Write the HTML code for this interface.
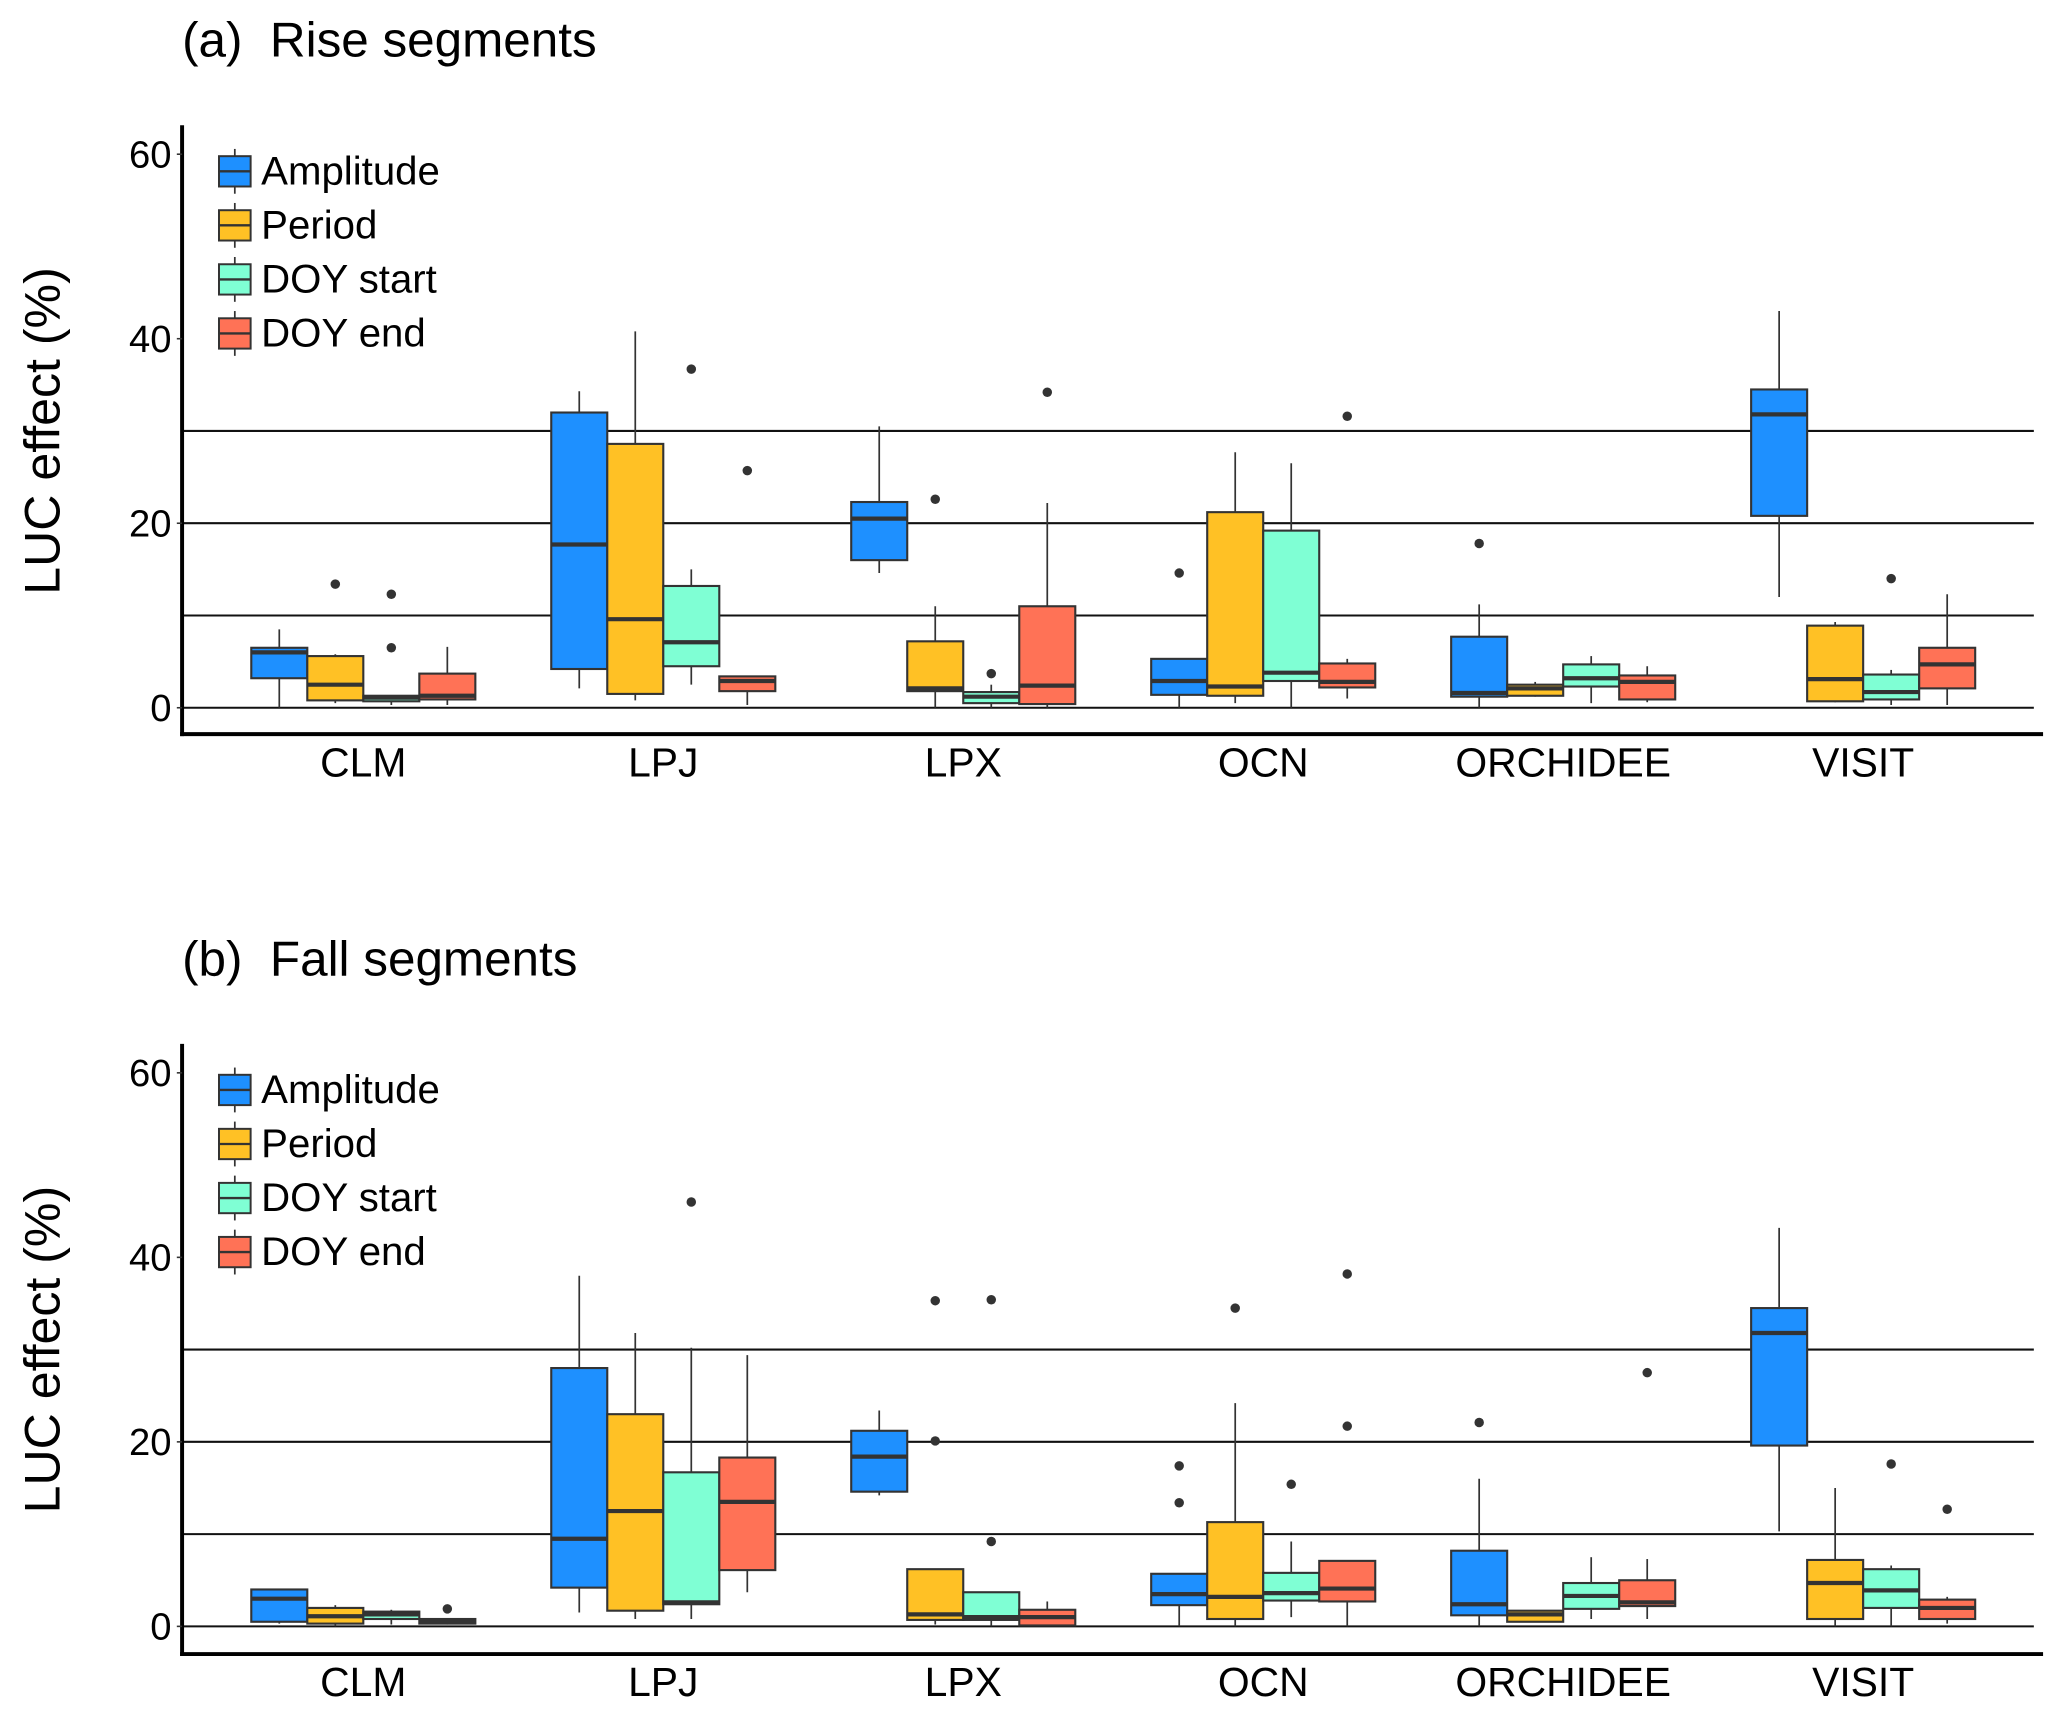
<!DOCTYPE html>
<html><head><meta charset="utf-8">
<style>
html,body{margin:0;padding:0;background:#fff;}
svg{display:block;font-family:"Liberation Sans",Arial,sans-serif;}
</style></head>
<body>
<svg id="chart" width="2067" height="1716" viewBox="0 0 1568 1302" xmlns="http://www.w3.org/2000/svg">
</svg>
<script>
const models = ["CLM","LPJ","LPX","OCN","ORCHIDEE","VISIT"];
const metrics = ["Amplitude","Period","DOY start","DOY end"];
const colors = ["#1E90FF","#FFC125","#7FFFD4","#FF7256"];
const yTicks = [0,20,40,60];
const gridVals = [0,10,20,30];
// each entry: [lowWhisker, q1, median, q3, highWhisker]
const riseStats = [
  [[0,3.2,6,6.5,8.5],[0.5,0.8,2.5,5.6,5.8],[0.3,0.7,1.1,1.3,1.3],[0.3,0.9,1.3,3.7,6.6]],
  [[2.1,4.2,17.7,32,34.3],[0.8,1.5,9.6,28.6,40.8],[2.5,4.5,7.1,13.2,15],[0.3,1.8,2.9,3.4,3.4]],
  [[14.6,16,20.5,22.3,30.5],[0,1.8,2.1,7.2,11],[0,0.5,1.2,1.7,2.5],[0,0.4,2.4,11,22.2]],
  [[0,1.4,2.9,5.3,5.3],[0.5,1.3,2.3,21.2,27.7],[0,2.9,3.8,19.2,26.5],[1,2.2,2.8,4.8,5.3]],
  [[0,1.2,1.6,7.7,11.2],[1.2,1.3,2.1,2.5,2.8],[0.5,2.3,3.2,4.7,5.6],[0.6,0.9,2.8,3.5,4.5]],
  [[12,20.8,31.8,34.5,43],[0.6,0.7,3.1,8.9,9.3],[0.3,0.9,1.7,3.6,4.1],[0.3,2.1,4.7,6.5,12.3]]
];
const riseOutliers = [
  [[],[13.4],[12.3,6.5],[]],
  [[],[],[36.7],[25.7]],
  [[],[22.6],[3.7],[34.2]],
  [[14.6],[],[],[31.6]],
  [[17.8],[],[],[]],
  [[],[],[14],[]]
];
const fallStats = [
  [[0.3,0.5,3,4,4],[0,0.3,1.1,2,2.3],[0.2,0.8,1.3,1.6,1.8],[0.2,0.3,0.6,0.8,0.8]],
  [[1.5,4.2,9.5,28,38],[0.8,1.7,12.5,23,31.8],[0.8,2.4,2.6,16.7,30.2],[3.7,6.1,13.5,18.3,29.4]],
  [[14.2,14.6,18.4,21.2,23.4],[0.2,0.7,1.3,6.2,6.2],[0,0.7,1,3.7,3.7],[0,0.1,1,1.8,2.7]],
  [[0,2.3,3.5,5.7,5.7],[0,0.8,3.2,11.3,24.2],[1,2.8,3.6,5.8,9.2],[0,2.7,4.1,7.1,7.1]],
  [[0,1.2,2.4,8.2,16],[0.5,0.5,1.3,1.7,1.7],[0.8,1.9,3.3,4.7,7.5],[0.8,2.2,2.6,5,7.3]],
  [[10.3,19.6,31.8,34.5,43.2],[0,0.8,4.7,7.2,15],[0,2,3.9,6.2,6.6],[0.3,0.8,2,2.9,3.2]]
];
const fallOutliers = [
  [[],[],[],[1.9]],
  [[],[],[46],[]],
  [[],[35.3,20.1],[35.4,9.2],[]],
  [[17.4,13.4],[34.5],[15.4],[38.2,21.7]],
  [[22.1],[],[],[27.5]],
  [[],[],[17.6],[12.7]]
];

const svg = document.getElementById('chart');
const NS = "http://www.w3.org/2000/svg";
function mk(tag, attrs, parent){
  const e = document.createElementNS(NS, tag);
  for (const k in attrs) e.setAttribute(k, attrs[k]);
  (parent||svg).appendChild(e);
  return e;
}
const X0 = 138, XEND = 1550, CAT0 = 275.5, CATSTEP = 227.6, BW = 42.5;
const offs = [-1.5,-0.5,0.5,1.5];
function xCat(i){ return CAT0 + i*CATSTEP; }

function panel(id, title, titleY, zeroY, axisY, stats, outl){
  const g = mk('g', {});
  
  
  const y = v => zeroY - v*7;
  const t = mk('text', {x:138, y:titleY, 'font-size':37.5, fill:'#000', 'xml:space':'preserve', style:'white-space:pre'}, g);
  t.textContent = title;
  
  
  gridVals.forEach(v=>{
    const l = mk('line', {x1:X0, x2:1543, y1:y(v), y2:y(v), stroke:'#111', 'stroke-width':1.6}, g);
    
    
  });
  const ya = mk('line', {x1:X0, x2:X0, y1:y(60)-22, y2:axisY+1.5, stroke:'#000', 'stroke-width':3}, g);
  
  
  const xa = mk('line', {x1:X0-1.5, x2:XEND, y1:axisY, y2:axisY, stroke:'#000', 'stroke-width':3}, g);
  
  
  yTicks.forEach(v=>{
    mk('line', {x1:X0-4, x2:X0, y1:y(v), y2:y(v), stroke:'#333', 'stroke-width':1.2}, g);
    const tl = mk('text', {x:X0-8, y:y(v)+10, 'font-size':29, 'text-anchor':'end', fill:'#000'}, g);
    tl.textContent = v;
    
    
  });
  const yl = mk('text', {x:0, y:0, 'font-size':38, 'text-anchor':'middle', fill:'#000', transform:`translate(45,${y(30)}) rotate(-90)`}, g);
  yl.textContent = 'LUC effect (%)';
  
  
  models.forEach((m,i)=>{
    const cl = mk('text', {x:xCat(i), y:axisY+32, 'font-size':31, 'text-anchor':'middle', fill:'#000'}, g);
    cl.textContent = m;
    
    
    stats[i].forEach((s,j)=>{
      const cx = xCat(i) + offs[j]*BW;
      const bg = mk('g', {}, g);
      
      
      mk('line', {x1:cx, x2:cx, y1:y(s[0]), y2:y(s[4]), stroke:'#333', 'stroke-width':1.3}, bg);
      mk('rect', {x:cx-BW/2, y:y(s[3]), width:BW, height:Math.max(y(s[1])-y(s[3]),0.5), fill:colors[j], stroke:'#333', 'stroke-width':1.6}, bg);
      mk('line', {x1:cx-BW/2, x2:cx+BW/2, y1:y(s[2]), y2:y(s[2]), stroke:'#333', 'stroke-width':3.2}, bg);
      outl[i][j].forEach(o=>{
        const c = mk('circle', {cx:cx, cy:y(o), r:3.6, fill:'#333'}, bg);
        
        
      });
    });
  });
  metrics.forEach((m,j)=>{
    const ly = y(60)+13 + j*41;
    const lg = mk('g', {}, g);
    
    
    mk('line', {x1:178, x2:178, y1:ly-17, y2:ly+17, stroke:'#333', 'stroke-width':1.3}, lg);
    mk('rect', {x:166, y:ly-11.5, width:24, height:23, fill:colors[j], stroke:'#333', 'stroke-width':1.5}, lg);
    mk('line', {x1:166, x2:190, y1:ly, y2:ly, stroke:'#333', 'stroke-width':1.8}, lg);
    const lt = mk('text', {x:198, y:ly+10, 'font-size':30.5, fill:'#000'}, lg);
    lt.textContent = m;
  });
}
panel('panel-a-rise', '(a)  Rise segments', 43, 537, 557, riseStats, riseOutliers);
panel('panel-b-fall', '(b)  Fall segments', 740, 1234, 1255, fallStats, fallOutliers);
</script>
</body></html>
